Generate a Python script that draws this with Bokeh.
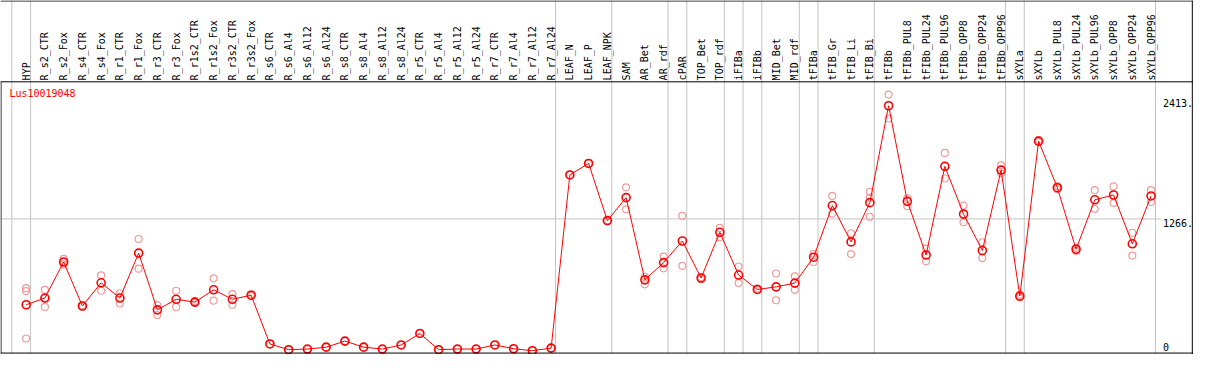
import math
from bokeh.plotting import figure
from bokeh.models import Range1d, Span
from bokeh.core.properties import value
from bokeh.embed import file_html
from bokeh.resources import INLINE

# ---------------- data ----------------
title_text = "Lus10019048"

categories = [
    "HYP",
    "R_s2_CTR", "R_s2_Fox", "R_s4_CTR", "R_s4_Fox", "R_r1_CTR", "R_r1_Fox",
    "R_r3_CTR", "R_r3_Fox", "R_r1s2_CTR", "R_r1s2_Fox", "R_r3s2_CTR", "R_r3s2_Fox",
    "R_s6_CTR", "R_s6_Al4", "R_s6_Al12", "R_s6_Al24",
    "R_s8_CTR", "R_s8_Al4", "R_s8_Al12", "R_s8_Al24",
    "R_r5_CTR", "R_r5_Al4", "R_r5_Al12", "R_r5_Al24",
    "R_r7_CTR", "R_r7_Al4", "R_r7_Al12", "R_r7_Al24",
    "LEAF_N", "LEAF_P", "LEAF_NPK",
    "SAM", "AR_Bet", "AR_rdf",
    "cPAR",
    "TOP_Bet", "TOP_rdf",
    "iFIBa",
    "iFIBb",
    "MID_Bet", "MID_rdf",
    "tFIBa",
    "tFIB_Gr", "tFIB_Li", "tFIB_Bi",
    "tFIBb", "tFIBb_PUL8", "tFIBb_PUL24", "tFIBb_PUL96", "tFIBb_OPP8", "tFIBb_OPP24", "tFIBb_OPP96",
    "sXYLa",
    "sXYLb", "sXYLb_PUL8", "sXYLb_PUL24", "sXYLb_PUL96", "sXYLb_OPP8", "sXYLb_OPP24", "sXYLb_OPP96",
]

# sizes of the groups separated by vertical grey lines
group_sizes = [1, 28, 3, 3, 1, 2, 1, 1, 2, 1, 3, 7, 1, 7]

means = [
    445,
    509, 854, 433, 655, 509, 939, 396, 497, 470, 588, 497, 536,
    70, 15, 21, 39,
    97, 39, 21, 60,
    170, 15, 21, 21,
    60, 24, 5, 30,
    1687, 1797, 1250,
    1470, 683, 848,
    1055,
    701, 1138,
    729,
    591,
    616, 652,
    900,
    1394, 1046, 1422,
    2349, 1434, 921, 1769, 1312, 964, 1733,
    527,
    2010, 1565, 976, 1449, 1495, 1028, 1486,
]

replicates = [
    [603, 576, 122],
    [588, 424, 509], [884, 832, 854], [440, 428], [726, 579], [555, 457], [1074, 790],
    [442, 347], [579, 424], [480, 462], [698, 484], [546, 445], [545, 528],
    [70], [15], [21], [39],
    [97], [39], [21], [60],
    [170], [15], [21], [21],
    [60], [24], [5], [30],
    [1687], [1797], [1250],
    [1568, 1358], [713, 640], [905, 793],
    [1296, 817],
    [710, 690], [1180, 1092],
    [811, 652],
    [600, 585],
    [744, 488], [717, 588],
    [933, 854],
    [1486, 1317], [1129, 930], [1525, 1470, 1287],
    [2456, 2227], [1464, 1388], [982, 860], [1898, 1653], [1394, 1235], [1043, 891], [1779, 1702],
    [540, 515],
    [2020, 2000], [1580, 1550], [990, 960], [1541, 1363], [1577, 1418], [1134, 915], [1541, 1427],
]

y_ticks = [2413, 1266, 0]
y_tick_labels = ["2413.", "1266.", "0"]

# ---------------- layout helpers (reference pixel -> data units) ----------------
REF_W, REF_H = 1209, 370
X_FIRST, X_STEP = 26.0, 19.0          # pixel of first category, pixel step
Y_ZERO, Y_SCALE = 366.6, 0.10924      # pixel of value 0, pixels per unit


def xd(px):
    return (px - X_FIRST) / X_STEP


def yd(py):
    return (Y_ZERO - py) / Y_SCALE


FONT = value("DejaVu Sans Mono")
GREY = "#c4c4c4"

p = figure(
    width=1193, height=354,
    x_range=Range1d(xd(0), xd(REF_W)),
    y_range=Range1d(yd(REF_H), yd(0)),
    x_axis_location=None, y_axis_location=None,
    output_backend="svg", toolbar_location=None,
    min_border=0,
)
p.outline_line_color = None
p.background_fill_color = "white"
p.border_fill_color = "white"
p.grid.visible = False
p.xgrid.grid_line_color = None
p.ygrid.grid_line_color = None

idx = list(range(len(categories)))

# group separators
bounds = [-1]
acc = 0
for g in group_sizes:
    acc += g
    bounds.append(acc - 1)
sep_x = [b + 4.5 / X_STEP for b in bounds]
p.segment(x0=sep_x, y0=[yd(0)] * len(sep_x), x1=sep_x, y1=[yd(369)] * len(sep_x),
          line_color=GREY, line_width=1)

# grey horizontal reference line at middle tick
p.segment(x0=[xd(0)], y0=[y_ticks[1]], x1=[xd(1176)], y1=[y_ticks[1]],
          line_color=GREY, line_width=1)

# black frame lines
for py in (0.5, 85, 368.5):
    p.add_layout(Span(location=yd(py), dimension="width", line_color="black", line_width=1))
p.segment(x0=[xd(0.5)], y0=[yd(85)], x1=[xd(0.5)], y1=[yd(369)], line_color="black", line_width=1)
p.add_layout(Span(location=xd(1207.8), dimension="height", line_color="black", line_width=1))

# category labels (header)
p.text(x=idx, y=[yd(83.5)] * len(idx), text=categories, angle=math.pi / 2,
       text_align="left", text_baseline="middle",
       text_font=FONT, text_font_size="10px", text_color="black")

# title
p.text(x=[xd(9)], y=[yd(91.5)], text=[title_text], text_align="left", text_baseline="top",
       text_font=FONT, text_font_size="10px", text_color="#ff0000")

# right-side value labels
p.text(x=[xd(1178)] * 2, y=y_ticks[:2], text=y_tick_labels[:2], text_align="left",
       text_baseline="top", text_font=FONT, text_font_size="10px", text_color="black")
p.text(x=[xd(1178)], y=y_ticks[2:], text=y_tick_labels[2:], text_align="left",
       text_baseline="bottom", text_font=FONT, text_font_size="10px", text_color="black")

# replicate points
rx, ry = [], []
for i, reps in enumerate(replicates):
    for v in reps:
        rx.append(i)
        ry.append(v)
p.scatter(rx, ry, marker="circle", size=7, fill_color=None,
          line_color="#f09a9a", line_width=1.2)

# mean line and markers
p.line(idx, means, line_color="#ff0000", line_width=1)
p.scatter(idx, means, marker="circle", size=8, fill_color=None,
          line_color="#ff0000", line_width=1.6)

open("out.html", "w").write(file_html(p, INLINE))
